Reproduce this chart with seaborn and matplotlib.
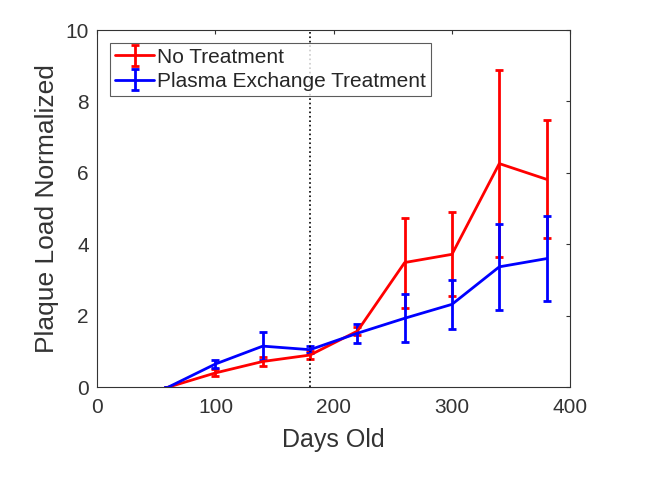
import numpy as np
import pandas as pd
import matplotlib
matplotlib.use("Agg")
import matplotlib.pyplot as plt
import seaborn as sns

# Data
days = [60, 100, 140, 180, 220, 260, 300, 340, 380]
no_treatment = [0, 0.40, 0.72, 0.90, 1.57, 3.49, 3.72, 6.26, 5.82]
no_treatment_err = [0, 0.10, 0.12, 0.12, 0.12, 1.26, 1.18, 2.62, 1.65]
plasma = [0, 0.65, 1.15, 1.05, 1.51, 1.93, 2.32, 3.37, 3.60]
plasma_err = [0, 0.10, 0.40, 0.10, 0.26, 0.67, 0.68, 1.21, 1.19]
treatment_day = 180

df = pd.DataFrame({"Days": days, "NoT": no_treatment, "NoT_err": no_treatment_err,
                   "PE": plasma, "PE_err": plasma_err})

sns.set_style("white")
plt.rcParams["font.family"] = ["Liberation Sans", "DejaVu Sans"]

fig = plt.figure(figsize=(6.48, 4.84), dpi=100)
ax = fig.add_axes([0.150, 0.200, 0.730, 0.738])

ax.errorbar(df["Days"], df["NoT"], yerr=df["NoT_err"], color="#ff0000", lw=2,
            elinewidth=2, capsize=3, capthick=2, label="No Treatment")
ax.errorbar(df["Days"], df["PE"], yerr=df["PE_err"], color="#0000ff", lw=2,
            elinewidth=2, capsize=3, capthick=2, label="Plasma Exchange Treatment")
ax.axvline(treatment_day, color="black", ls=":", lw=1.2)

ax.set_xlim(0, 400)
ax.set_ylim(0, 10)
ax.set_xticks([0, 100, 200, 300, 400])
ax.set_yticks([0, 2, 4, 6, 8, 10])
ax.set_xlabel("Days Old", fontsize=18, color="#333333", labelpad=8)
ax.set_ylabel("Plaque Load Normalized", fontsize=19, color="#333333", labelpad=5)
ax.tick_params(direction="in", length=3, top=True, right=True, labelsize=15,
               colors="#333333", width=0.8)
ax.tick_params(axis="x", pad=8)
ax.tick_params(axis="y", pad=6)
for s in ax.spines.values():
    s.set_visible(True)
    s.set_color("#333333")
    s.set_linewidth(0.8)

leg = ax.legend(loc="upper left", fontsize=15, frameon=True, fancybox=False,
                edgecolor="#333333", handlelength=1.9, handletextpad=0.1,
                borderpad=0.25, labelspacing=0.25, borderaxespad=0.6)
leg.get_frame().set_linewidth(0.8)
for t in leg.get_texts():
    t.set_color("#262626")

fig.savefig("out.png", dpi=100)
